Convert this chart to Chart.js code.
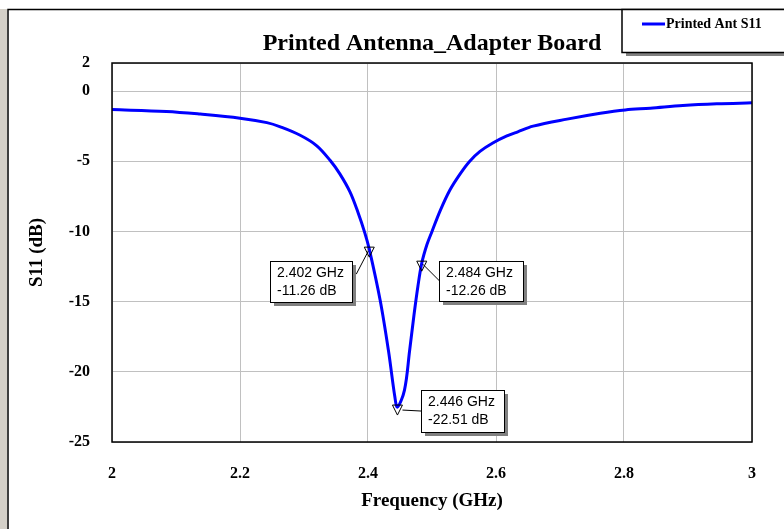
<!DOCTYPE html>
<html lang="en">
<head>
<meta charset="UTF-8">
<title>Printed Antenna_Adapter Board</title>
<script src="https://cdn.jsdelivr.net/npm/chart.js"></script>
<style>
    html, body { margin: 0; padding: 0; background: #fff; overflow: hidden; }
</style>
</head>
<body>
<canvas id="s11Chart" width="784" height="529"></canvas>
<script>
    // S11 sweep
    const freqGHz = [2.0, 2.085, 2.138, 2.2, 2.242, 2.263, 2.294, 2.32, 2.341, 2.356, 2.372, 2.384, 2.395,
        2.402, 2.419, 2.432, 2.442, 2.446, 2.457, 2.465, 2.472, 2.478, 2.484, 2.492, 2.5, 2.513, 2.528,
        2.544, 2.559, 2.575, 2.595, 2.617, 2.634, 2.658, 2.711, 2.763, 2.802, 2.841, 2.892, 2.945, 3.0];
    const s11dB = [-1.32, -1.45, -1.64, -1.93, -2.25, -2.55, -3.15, -3.9, -4.95, -5.9, -7.2, -8.6, -10.1,
        -11.26, -14.9, -18.5, -21.8, -22.51, -21.3, -18.5, -15.9, -13.9, -12.26, -10.95, -10.0, -8.5, -7.05,
        -5.9, -5.0, -4.3, -3.7, -3.2, -2.9, -2.5, -2.0, -1.58, -1.34, -1.22, -1.03, -0.91, -0.84];

    const xTicks = [2, 2.2, 2.4, 2.6, 2.8, 3];
    const yTicks = [-25, -20, -15, -10, -5, 0, 2];

    // marker readouts
    const markerFreq = [2.402, 2.484, 2.446];
    const markerDb = [-11.26, -12.26, -22.51];

    const serif = "'Liberation Serif', 'Times New Roman', serif";
    const sans = "'Liberation Sans', Arial, sans-serif";

    // where each readout box sits relative to its marker
    const boxLayout = [
        { dx: -99, dy: 12, w: 82, h: 41, from: [-13, 25], to: [-1, 2] },
        { dx: 17, dy: -2, w: 84, h: 40, from: [1, 1], to: [18, 18] },
        { dx: 24, dy: -17, w: 83, h: 42, from: [5, 3], to: [24, 4] }
    ];

    const decorPlugin = {
        id: 'decor',
        beforeDraw(chart) {
            const ctx = chart.ctx;
            ctx.save();
            ctx.fillStyle = '#d4d0c8';
            ctx.fillRect(0, 9, 7, chart.height);
            ctx.strokeStyle = '#000';
            ctx.lineWidth = 1.5;
            ctx.beginPath();
            ctx.moveTo(8, chart.height);
            ctx.lineTo(8, 9.5);
            ctx.lineTo(chart.width, 9.5);
            ctx.stroke();
            ctx.restore();
        },
        afterDatasetsDraw(chart) {
            const ctx = chart.ctx;
            const a = chart.chartArea;
            ctx.save();
            ctx.strokeStyle = '#000';
            ctx.lineWidth = 1.5;
            ctx.strokeRect(a.left, a.top, a.right - a.left, a.bottom - a.top);

            // hollow down-pointing triangles
            ctx.lineWidth = 1;
            markerFreq.forEach((f, i) => {
                const px = chart.scales.x.getPixelForValue(f);
                const py = chart.scales.y.getPixelForValue(markerDb[i]);
                ctx.beginPath();
                ctx.moveTo(px - 5, py - 2);
                ctx.lineTo(px + 5, py - 2);
                ctx.lineTo(px, py + 8);
                ctx.closePath();
                ctx.stroke();
            });
            ctx.restore();
        },
        afterDraw(chart) {
            const ctx = chart.ctx;
            ctx.save();

            markerFreq.forEach((f, i) => {
                const px = chart.scales.x.getPixelForValue(f);
                const py = chart.scales.y.getPixelForValue(markerDb[i]);
                const b = boxLayout[i];
                ctx.strokeStyle = '#000';
                ctx.lineWidth = 1;
                ctx.beginPath();
                ctx.moveTo(px + b.from[0], py + b.from[1]);
                ctx.lineTo(px + b.to[0], py + b.to[1]);
                ctx.stroke();

                const x = Math.round(px + b.dx), y = Math.round(py + b.dy);
                ctx.fillStyle = '#808080';
                ctx.fillRect(x + 4, y + 4, b.w, b.h);
                ctx.fillStyle = '#fff';
                ctx.fillRect(x, y, b.w, b.h);
                ctx.strokeRect(x + 0.5, y + 0.5, b.w, b.h);

                ctx.fillStyle = '#000';
                ctx.font = '14px ' + sans;
                ctx.textBaseline = 'middle';
                ctx.textAlign = 'left';
                ctx.fillText(f.toFixed(3) + ' GHz', x + 7, y + 12);
                ctx.fillText(markerDb[i].toFixed(2) + ' dB', x + 7, y + 30);
            });

            // legend
            const ds = chart.data.datasets[0];
            ctx.fillStyle = '#808080';
            ctx.fillRect(626, 13, 200, 43);
            ctx.fillStyle = '#fff';
            ctx.fillRect(622, 9, 200, 43);
            ctx.strokeStyle = '#000';
            ctx.lineWidth = 1.5;
            ctx.strokeRect(622, 9.5, 200, 43);
            ctx.strokeStyle = ds.borderColor;
            ctx.lineWidth = 3;
            ctx.beginPath();
            ctx.moveTo(642, 24);
            ctx.lineTo(665, 24);
            ctx.stroke();
            ctx.fillStyle = '#000';
            ctx.font = 'bold 14px ' + serif;
            ctx.textBaseline = 'middle';
            ctx.fillText(ds.label, 666, 24);
            ctx.restore();
        }
    };

    const ctx = document.getElementById('s11Chart').getContext('2d');
    const s11Chart = new Chart(ctx, {
        type: 'line',
        data: {
            datasets: [{
                label: 'Printed Ant S11',
                data: freqGHz.map((f, i) => ({ x: f, y: s11dB[i] })),
                borderColor: '#0000ff',
                borderWidth: 3,
                pointRadius: 0,
                tension: 0.35,
                fill: false
            }]
        },
        options: {
            responsive: false,
            animation: false,
            devicePixelRatio: 1,
            layout: { padding: { top: 0, right: 32, bottom: 0, left: 0 } },
            plugins: {
                legend: { display: false },
                tooltip: { enabled: false },
                title: {
                    display: true,
                    text: 'Printed Antenna_Adapter Board',
                    fullSize: false,
                    color: '#000',
                    font: { family: serif, size: 24, weight: 'bold' },
                    padding: { top: 29.6, bottom: 4.6 }
                }
            },
            scales: {
                x: {
                    type: 'linear',
                    min: 2,
                    max: 3,
                    afterBuildTicks: s => { s.ticks = xTicks.map(v => ({ value: v })); },
                    afterFit: s => { s.height = 87; },
                    grid: { color: '#c0c0c0', drawTicks: false },
                    border: { display: false },
                    ticks: {
                        color: '#000',
                        padding: 22,
                        autoSkip: false,
                        maxRotation: 0,
                        font: { family: serif, size: 16, weight: 'bold' },
                        callback: v => String(Math.round(v * 10) / 10)
                    },
                    title: {
                        display: true,
                        text: 'Frequency (GHz)',
                        color: '#000',
                        font: { family: serif, size: 19, weight: 'bold' },
                        padding: { top: 0, bottom: 16.6 }
                    }
                },
                y: {
                    min: -25,
                    max: 2,
                    afterBuildTicks: s => { s.ticks = yTicks.map(v => ({ value: v })); },
                    afterFit: s => { s.width = 112; },
                    grid: { color: '#c0c0c0', drawTicks: false },
                    border: { display: false },
                    ticks: {
                        color: '#000',
                        padding: 22,
                        autoSkip: false,
                        font: { family: serif, size: 16, weight: 'bold' },
                        callback: v => String(v)
                    },
                    title: {
                        display: true,
                        text: 'S11 (dB)',
                        color: '#000',
                        font: { family: serif, size: 19, weight: 'bold' },
                        padding: { top: 25.6, bottom: 0 }
                    }
                }
            }
        },
        plugins: [decorPlugin]
    });
</script>
</body>
</html>
